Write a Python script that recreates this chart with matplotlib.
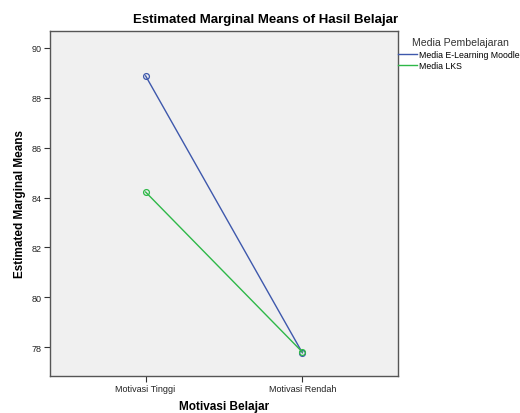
import matplotlib.pyplot as plt
import numpy as np

plt.rcParams['font.family'] = ['Liberation Sans', 'DejaVu Sans']

categories = ["Motivasi Tinggi", "Motivasi Rendah"]
series_names = ["Media E-Learning Moodle", "Media LKS"]
elearning = [88.88, 77.77]
lks = [84.22, 77.80]
colors = ["#3E58AC", "#2EB848"]


def main():
    fig = plt.figure(figsize=(5.2, 4.14), dpi=100)
    ax = fig.add_axes([50 / 520, 1 - 377 / 414, 348 / 520, 345 / 414])
    ax.set_facecolor("#F0F0F0")
    x = np.arange(len(categories))
    for vals, c, name in zip([elearning, lks], colors, series_names):
        ax.plot(x, vals, color=c, lw=1.0, marker="o", ms=4.2,
                mfc="none", mec=c, mew=0.9, label=name)
    ax.set_xlim(-0.61, 1.61)
    ax.set_ylim(76.84, 90.68)
    ax.set_xticks(x, categories)
    ax.set_yticks(np.arange(78, 91, 2))
    ax.tick_params(labelsize=6.5, length=4, width=0.8, color="#333333",
                   labelcolor="#222222", pad=2)
    for s in ax.spines.values():
        s.set_color("#555555")
        s.set_linewidth(1.0)
    fig.text(266 / 520, 1 - 20 / 414, "Estimated Marginal Means of Hasil Belajar",
             fontsize=9.5, fontweight="bold", ha="center", va="center")
    ax.set_ylabel("Estimated Marginal Means", fontsize=8.5, fontweight="bold", labelpad=4)
    ax.set_xlabel("Motivasi Belajar", fontsize=8.5, fontweight="bold", labelpad=5)
    fig.text(412 / 520, 1 - 43 / 414, "Media Pembelajaran", fontsize=7.6,
             color="#333333", va="center")
    fig.legend(handles=[plt.Line2D([], [], color=c, lw=1.0) for c in colors],
               labels=series_names, loc="upper left",
               bbox_to_anchor=(398 / 520, 1 - 51 / 414), frameon=False,
               fontsize=6.3, handlelength=2.2, handletextpad=0.2,
               labelspacing=0.2, borderpad=0, borderaxespad=0)
    fig.savefig("out.png", dpi=100)


if __name__ == "__main__":
    main()
